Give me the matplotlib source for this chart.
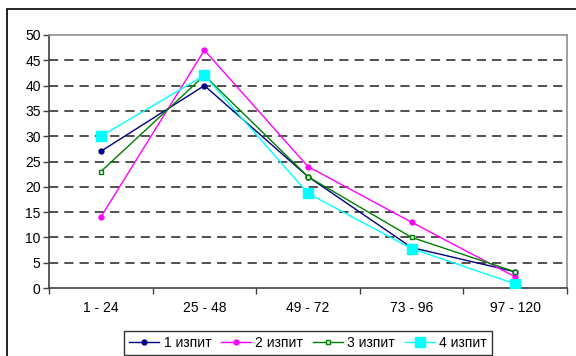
import matplotlib.pyplot as plt
from matplotlib.patches import Rectangle

plt.rcParams['font.family'] = ['Liberation Sans', 'DejaVu Sans']

categories = ['1 - 24', '25 - 48', '49 - 72', '73 - 96', '97 - 120']
izpit1 = [27, 40, 22, 8, 3.2]
izpit2 = [14, 47, 24, 13, 2.2]
izpit3 = [23, 42, 22, 10, 3.2]
izpit4 = [30, 42, 18.7, 7.8, 0.8]
labels = ['1 изпит', '2 изпит', '3 изпит', '4 изпит']

fig = plt.figure(figsize=(5.76, 3.56), dpi=100)
W, H = 576, 356
# outer chart border (only top/left visible)
fig.patches.append(Rectangle((7 / W, -0.1), 1.2, 1 - 9 / H + 0.1, transform=fig.transFigure,
                             fill=False, edgecolor='black', linewidth=1.2))

ax = fig.add_axes([49 / W, 1 - 288 / H, (567 - 49) / W, (288 - 35) / H])
x = list(range(len(categories)))

ax.plot(x, izpit1, color='#000080', lw=1.0, marker='o', ms=3.5, label=labels[0], zorder=3)
ax.plot(x, izpit2, color='#ff00ff', lw=1.0, marker='o', ms=3.5, label=labels[1], zorder=3)
ax.plot(x, izpit3, color='#008000', lw=1.0, marker='s', ms=3.5, mfc='white', mec='#008000',
        mew=1.0, label=labels[2], zorder=3)
ax.plot(x, izpit4, color='#00ffff', lw=1.0, marker='s', ms=6.5, label=labels[3], zorder=3)

ax.set_xlim(-0.5, len(categories) - 0.5)
ax.set_ylim(0, 50)
ax.set_yticks(range(0, 51, 5))
ax.set_xticks(x)
ax.set_xticklabels(categories)
ax.set_xticks([i - 0.5 for i in range(len(categories) + 1)], minor=True)
ax.tick_params(axis='x', which='major', length=0, pad=9, labelsize=10)
ax.tick_params(axis='x', which='minor', length=4, width=1, color='#404040', direction='out')
ax.tick_params(axis='y', length=4, width=1, color='#404040', labelsize=10, pad=2)

for v in range(5, 50, 5):
    ax.axhline(v, color='#202020', lw=1.1, dashes=(6, 4), zorder=1)

for s in ['left', 'bottom']:
    ax.spines[s].set_color('#404040')
    ax.spines[s].set_linewidth(1.2)
for s in ['top', 'right']:
    ax.spines[s].set_color('#909090')
    ax.spines[s].set_linewidth(1.2)

leg = fig.legend(loc='lower left', bbox_to_anchor=(124 / W, 1 - 355 / H, (492 - 124) / W, 26 / H),
                 ncol=4, frameon=True, fancybox=False, fontsize=10, handlelength=2.2,
                 columnspacing=0.6, handletextpad=0.3, borderpad=0.35, mode='expand',
                 borderaxespad=0)
leg.get_frame().set_edgecolor('black')
leg.get_frame().set_linewidth(1)

fig.savefig('out.png', dpi=100)
